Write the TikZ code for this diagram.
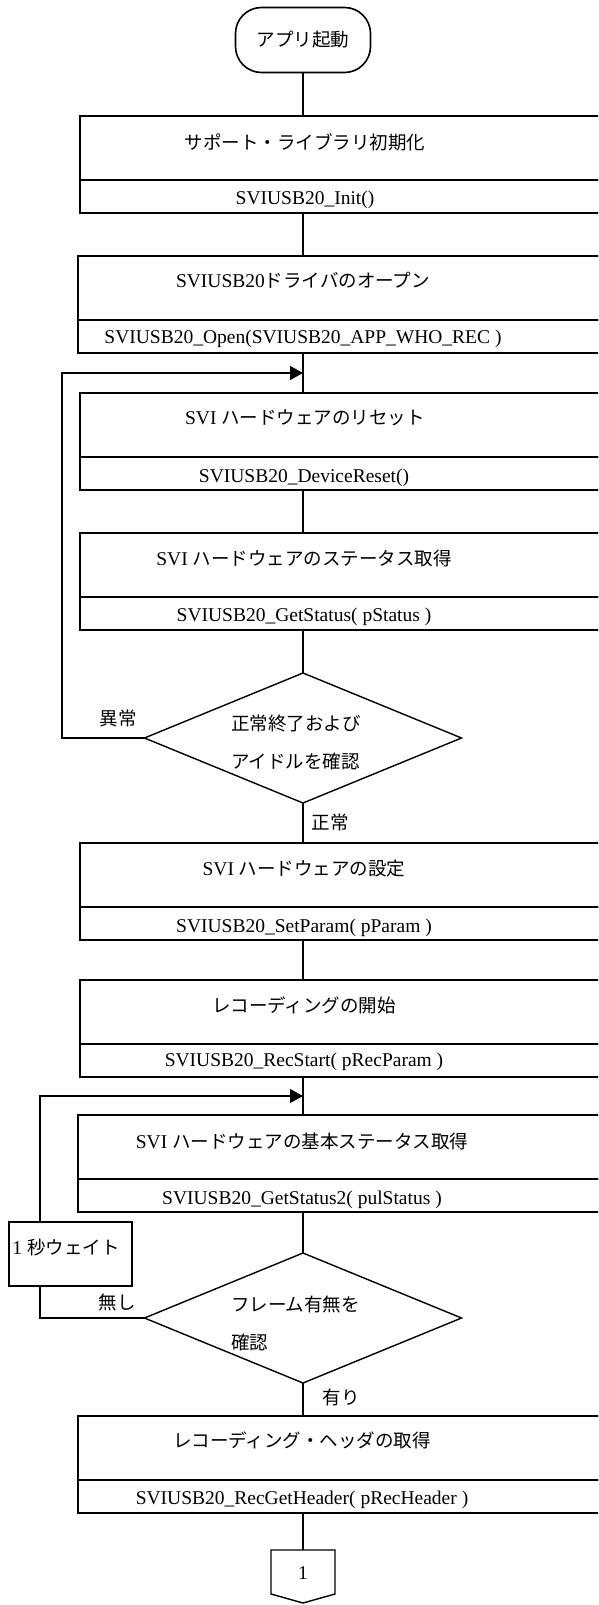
\documentclass[tikz,border=0pt]{standalone}
\usepackage{fontspec}
\setmainfont{Liberation Serif}
\newfontfamily\jpfont{Noto Sans CJK JP}
\usetikzlibrary{shapes.geometric,arrows.meta}
\newcommand{\J}[1]{{\jpfont\fontsize{18.5}{22}\selectfont #1}}
\begin{document}
\begin{tikzpicture}[x=1pt,y=-1pt,
  every node/.style={font=\fontsize{19.5}{23}\selectfont, inner sep=0pt, outer sep=0pt},
  box/.style={draw, line width=1.6pt, rectangle, anchor=north west, minimum width=560pt},
  upper/.style={box, minimum height=64pt},
  lower/.style={box, minimum height=33pt},
  conn/.style={line width=1.3pt},
  arr/.style={conn, -{Triangle[length=13pt,width=14pt]}},
  dec/.style={diamond, draw, line width=1.4pt, minimum width=317pt, minimum height=130pt},
  dtext/.style={font=\jpfont\fontsize{18.5}{38}\selectfont, align=left, anchor=west},
  lbl/.style={font=\jpfont\fontsize{18.5}{22}\selectfont}
]
\useasboundingbox (0,0) rectangle (598,1605);
\clip (0,0) rectangle (598,1605);

% start terminal
\node[draw, line width=1.6pt, rounded corners=26pt, minimum width=135pt, minimum height=65pt] (T) at (303,40) {\J{アプリ起動}};

% box 1
\node[upper] (B1a) at (80,116) {};
\node[lower] (B1b) at (B1a.south west) {};
\node (B1t) at (305,142) {\J{サポート・ライブラリ初期化}};
\node (B1f) at (305,200) {SVIUSB20\_Init()};

% box 2
\node[upper] (B2a) at (78,256) {};
\node[lower] (B2b) at (B2a.south west) {};
\node (B2t) at (303,280) {SVIUSB20\J{ドライバのオープン}};
\node (B2f) at (303,339) {SVIUSB20\_Open(SVIUSB20\_APP\_WHO\_REC )};

% box 3
\node[upper] (B3a) at (80,393) {};
\node[lower] (B3b) at (B3a.south west) {};
\node (B3t) at (305,418) {SVI \J{ハードウェアのリセット}};
\node (B3f) at (304,478) {SVIUSB20\_DeviceReset()};

% box 4
\node[upper] (B4a) at (80,533) {};
\node[lower] (B4b) at (B4a.south west) {};
\node (B4t) at (304,558) {SVI \J{ハードウェアのステータス取得}};
\node (B4f) at (304,617) {SVIUSB20\_GetStatus( pStatus )};

% decision 1
\node[dec] (D1) at (303,738) {};
\node[dtext] (D1t) at (231,742) {正常終了および\\アイドルを確認};

% box 5
\node[upper] (B5a) at (80,843) {};
\node[lower] (B5b) at (B5a.south west) {};
\node (B5t) at (304,869) {SVI \J{ハードウェアの設定}};
\node (B5f) at (304,928) {SVIUSB20\_SetParam( pParam )};

% box 6
\node[upper] (B6a) at (80,980) {};
\node[lower] (B6b) at (B6a.south west) {};
\node (B6t) at (304,1005) {\J{レコーディングの開始}};
\node (B6f) at (304,1062) {SVIUSB20\_RecStart( pRecParam )};

% box 7
\node[upper] (B7a) at (78,1115) {};
\node[lower] (B7b) at (B7a.south west) {};
\node (B7t) at (302,1141) {SVI \J{ハードウェアの基本ステータス取得}};
\node (B7f) at (302,1200) {SVIUSB20\_GetStatus2( pulStatus )};

% wait box
\node[draw, line width=1.6pt, minimum width=123pt, minimum height=64pt] (W) at (70.5,1254) {};
\node (Wt) at (66,1247) {1 \J{秒ウェイト}};

% decision 2
\node[dec] (D2) at (303,1318) {};
\node[dtext] (D2t) at (231,1323) {フレーム有無を\\確認};

% box 8
\node[upper] (B8a) at (78,1416) {};
\node[lower] (B8b) at (B8a.south west) {};
\node (B8t) at (302,1440) {\J{レコーディング・ヘッダの取得}};
\node (B8f) at (302,1500) {SVIUSB20\_RecGetHeader( pRecHeader )};

% off-page connector
\coordinate (offtop) at (303,1550);
\draw[line width=1.4pt] (271,1550) -- (335,1550) -- (335,1594) -- (303,1603) -- (271,1594) -- cycle;
\node (off) at (303,1573) {1};

% labels
\node[lbl] (L1) at (118,718) {異常};
\node[lbl] (L2) at (330,822) {正常};
\node[lbl] (L3) at (117,1302) {無し};
\node[lbl] (L4) at (341,1397) {有り};

% vertical connectors
\draw[conn] (T.south) -- (T |- B1a.north);
\draw[conn] (T |- B1b.south) -- (T |- B2a.north);
\draw[conn] (T |- B2b.south) -- (T |- B3a.north);
\draw[conn] (T |- B3b.south) -- (T |- B4a.north);
\draw[conn] (T |- B4b.south) -- (D1.north);
\draw[conn] (D1.south) -- (T |- B5a.north);
\draw[conn] (T |- B5b.south) -- (T |- B6a.north);
\draw[conn] (T |- B6b.south) -- (T |- B7a.north);
\draw[conn] (T |- B7b.south) -- (D2.north);
\draw[conn] (D2.south) -- (T |- B8a.north);
\draw[conn] (T |- B8b.south) -- (offtop);

% loop 1
\coordinate (c1) at (62,373);
\draw[arr] (D1.west) -| (c1) -- (T |- c1);

% loop 2
\coordinate (c2) at (40,1096);
\draw[conn] (D2.west) -| (W.south -| c2);
\draw[arr] (W.north -| c2) |- (T |- c2);
\end{tikzpicture}
\end{document}
